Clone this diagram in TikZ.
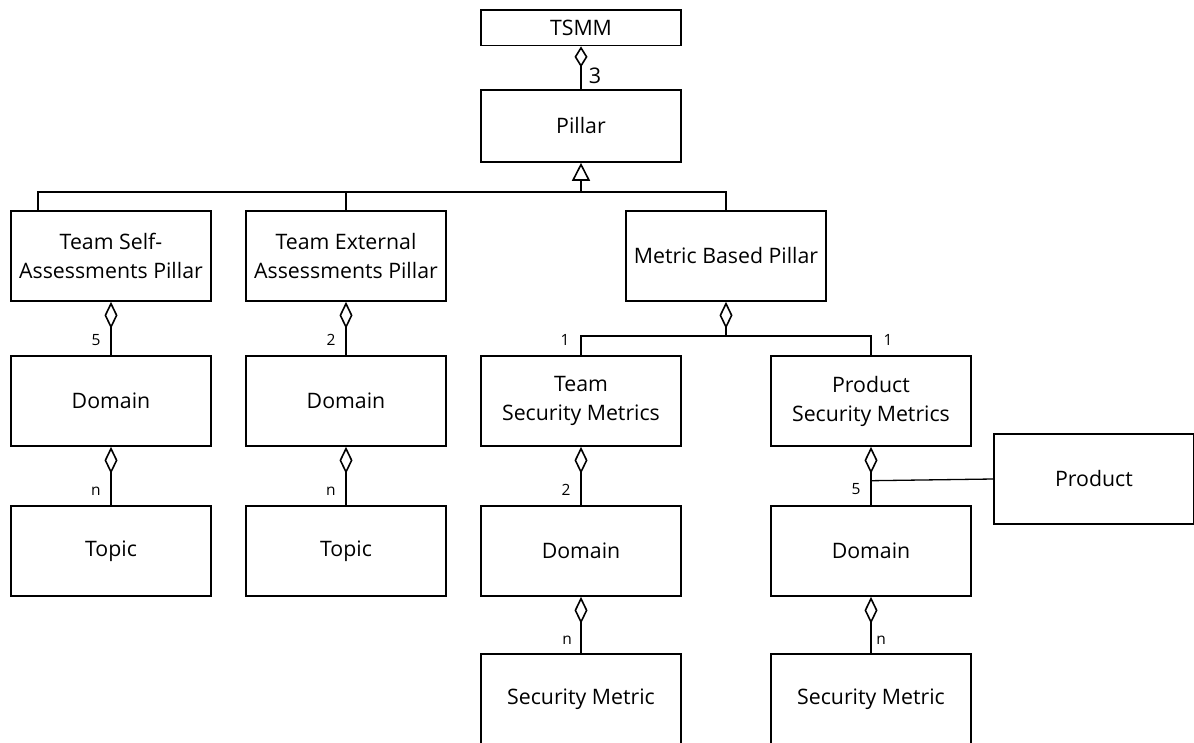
\documentclass[tikz,border=0pt]{standalone}
\usepackage{fontspec}
\setmainfont{Open Sans}
\usetikzlibrary{arrows.meta}
\begin{document}
\begin{tikzpicture}[x=1pt,y=-1pt,
  line width=1.6pt,
  umlbox/.style={draw, line width=1.6pt, minimum width=200pt, minimum height=90pt,
    inner sep=0pt, align=center, font=\fontsize{21.3}{29}\selectfont},
  mult/.style={font=\fontsize{15.5}{17}\selectfont, inner sep=0pt},
  aggr/.style={{Diamond[open,length=27pt,width=13pt]}-},
  aggrsmall/.style={{Diamond[open,length=21pt,width=13pt]}-},
  inherit/.style={-{Triangle[open,length=18pt,width=18pt]}}]
\useasboundingbox (0,0) rectangle (1194,742);
\clip (0,0) rectangle (1194,742);

% classes
\node[umlbox, minimum height=35.5pt] (tsmm) at (581,27.8) {TSMM};
\node[umlbox, minimum height=72pt] (pillar) at (581,126) {Pillar};
\node[umlbox] (tsa) at (111,256) {Team Self-\\Assessments Pillar};
\node[umlbox] (tea) at (346,256) {Team External\\Assessments Pillar};
\node[umlbox] (mbp) at (726,256) {Metric Based Pillar};
\node[umlbox] (dom1) at (111,401) {Domain};
\node[umlbox] (dom2) at (346,401) {Domain};
\node[umlbox] (tsm) at (581,401) {Team\\Security Metrics};
\node[umlbox] (psm) at (871,401) {Product\\Security Metrics};
\node[umlbox] (top1) at (111,551) {Topic};
\node[umlbox] (top2) at (346,551) {Topic};
\node[umlbox] (dom3) at (581,551) {Domain};
\node[umlbox] (dom4) at (871,551) {Domain};
\node[umlbox] (prod) at (1094,479) {Product};
\node[umlbox] (sm1) at (581,699) {Security Metric};
\node[umlbox] (sm2) at (871,699) {Security Metric};

% TSMM aggregates pillars
\draw[aggrsmall] (tsmm) -- (pillar);
\node[font=\fontsize{21.5}{23}\selectfont, inner sep=0pt] (m3) at (595,76) {3};

% generalisation of the three pillar kinds
\coordinate (ih) at (581,191.7);
\coordinate (tsatop) at (38,211);
\draw (tsatop) |- (mbp.north |- ih) -- (mbp.north);
\draw (tea.north) -- (tea.north |- ih);
\draw[inherit] (ih) -- (pillar.south);

% self-assessment branch
\draw[aggr] (tsa) -- (dom1);
\node[mult] (m5a) at (96,340) {5};
\draw[aggr] (dom1) -- (top1);
\node[mult] (mna) at (96,491) {n};

% external assessment branch
\draw[aggr] (tea) -- (dom2);
\node[mult] (m2a) at (331,340) {2};
\draw[aggr] (dom2) -- (top2);
\node[mult] (mnb) at (331,491) {n};

% metric based branch
\coordinate (mj) at (726,336);
\draw[aggr] (mbp) -- (mj);
\draw (tsm.north) |- (mj) -| (psm.north);
\node[mult] (m1a) at (565,340) {1};
\node[mult] (m1b) at (888,340) {1};

\draw[aggr] (tsm) -- (dom3);
\node[mult] (m2b) at (566,490) {2};
\draw[aggr] (dom3) -- (sm1);
\node[mult] (mnc) at (567,640) {n};

\draw[aggr] (psm) -- (dom4);
\node[mult] (m5b) at (856,489) {5};
\draw[aggr] (dom4) -- (sm2);
\node[mult] (mnd) at (881,640) {n};

% product association
\coordinate (pj) at (871,480.7);
\draw[line width=1.3pt] (pj) -- (prod.west);
\end{tikzpicture}
\end{document}
